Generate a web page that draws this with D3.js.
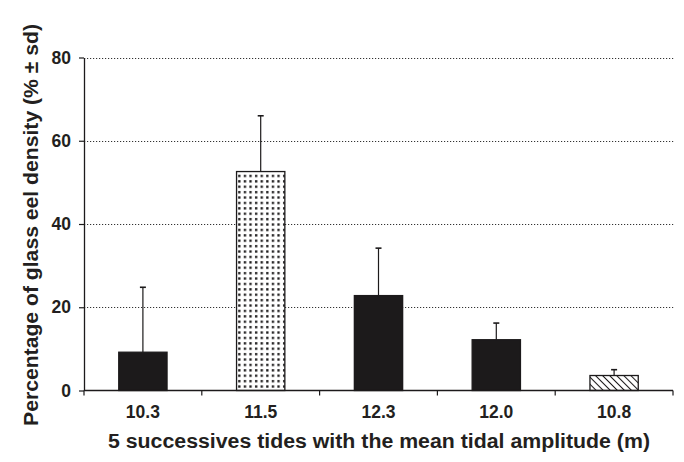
<!DOCTYPE html>
<html><head><meta charset="utf-8">
<script src="https://cdn.jsdelivr.net/npm/d3@7"></script>
<style>body{margin:0;background:#fff}svg{display:block}text{font-family:"Liberation Sans",Arial,sans-serif;font-weight:bold;fill:#231f20}</style>
</head><body>
<svg id="c" width="684" height="462"></svg>
<script>
const categories = ["10.3", "11.5", "12.3", "12.0", "10.8"];
const means = [9.2, 52.6, 22.8, 12.2, 3.6];
const sds = [15.6, 13.4, 11.4, 4.0, 1.4];
const fills = ["solid", "dots", "solid", "solid", "hatch"];
const yTicks = [0, 20, 40, 60, 80];

const svg = d3.select("#c");
const m = {l: 84, r: 11, t: 57.5, b: 71.5};
const W = 684, H = 462;
const x = d3.scaleBand().domain(categories).range([m.l, W - m.r]).paddingInner(0.59).paddingOuter(0.295);
const xb = d3.scaleBand().domain(categories).range([m.l, W - m.r]);
const y = d3.scaleLinear().domain([0, 80]).range([H - m.b, m.t]);

const defs = svg.append("defs");
const pd = defs.append("pattern").attr("id", "dots").attr("patternUnits", "userSpaceOnUse")
  .attr("width", 5.6).attr("height", 5.4).attr("x", 2).attr("y", 1);
pd.append("rect").attr("width", 5.6).attr("height", 5.4).attr("fill", "#fff");
pd.append("rect").attr("x", 1).attr("y", 1).attr("width", 2.3).attr("height", 2.3).attr("fill", "#1c1a1b");
const ph = defs.append("pattern").attr("id", "hatch").attr("patternUnits", "userSpaceOnUse")
  .attr("width", 5).attr("height", 5).attr("patternTransform", "rotate(-45)");
ph.append("rect").attr("width", 5).attr("height", 5).attr("fill", "#fff");
ph.append("line").attr("x1", 0).attr("y1", 0).attr("x2", 0).attr("y2", 5).attr("stroke", "#1c1a1b").attr("stroke-width", 2);

// gridlines
svg.append("g").selectAll("line").data(yTicks.filter(d => d > 0)).join("line")
  .attr("x1", m.l).attr("x2", W - m.r + 0.5)
  .attr("y1", d => Math.round(y(d)) + 0.5).attr("y2", d => Math.round(y(d)) + 0.5)
  .attr("stroke", "#333").attr("stroke-width", 1).attr("stroke-dasharray", "1.2,1.8");

// bars
svg.append("g").selectAll("rect").data(categories).join("rect")
  .attr("x", d => x(d)).attr("width", x.bandwidth())
  .attr("y", (d, i) => y(means[i])).attr("height", (d, i) => y(0) - y(means[i]))
  .attr("fill", (d, i) => fills[i] === "solid" ? "#1c1a1b" : `url(#${fills[i]})`)
  .attr("stroke", "#1c1a1b").attr("stroke-width", 1.3);

// error bars
const eb = svg.append("g").attr("stroke", "#1c1a1b").attr("stroke-width", 1.2);
categories.forEach((c, i) => {
  const cx = x(c) + x.bandwidth() / 2;
  eb.append("line").attr("x1", cx).attr("x2", cx).attr("y1", y(means[i])).attr("y2", y(means[i] + sds[i]));
  eb.append("line").attr("x1", cx - 3).attr("x2", cx + 3).attr("y1", y(means[i] + sds[i])).attr("y2", y(means[i] + sds[i])).attr("stroke-width", 1.6);
});

// y axis
const ya = svg.append("g").attr("transform", `translate(${m.l},0)`)
  .call(d3.axisLeft(y).tickValues(yTicks).tickSize(5).tickPadding(8).tickSizeOuter(0));
ya.select(".domain").attr("stroke", "#1c1a1b").attr("stroke-width", 1.3);
ya.selectAll(".tick line").attr("stroke", "#1c1a1b").attr("stroke-width", 1.2);
ya.selectAll("text").style("font-size", "17.5px").style("font-weight", "bold").style("font-family", "Liberation Sans, Arial, sans-serif").attr("fill", "#231f20");

// x axis: ticks at band boundaries
const xa = svg.append("g").attr("transform", `translate(0,${y(0)})`);
xa.append("line").attr("x1", m.l).attr("x2", W - m.r).attr("stroke", "#1c1a1b").attr("stroke-width", 1.3);
const bounds = categories.map(c => xb(c)).concat([W - m.r]);
xa.selectAll(".bt").data(bounds).join("line").attr("class", "bt")
  .attr("x1", d => d).attr("x2", d => d).attr("y1", 0).attr("y2", 5)
  .attr("stroke", "#1c1a1b").attr("stroke-width", 1.2);
xa.selectAll(".xl").data(categories).join("text").attr("class", "xl")
  .attr("x", d => xb(d) + xb.bandwidth() / 2).attr("y", 27).attr("text-anchor", "middle")
  .style("font-size", "17.5px").text(d => d);

// titles
svg.append("text").attr("x", 379).attr("y", 448).attr("text-anchor", "middle")
  .style("font-size", "19.5px").attr("textLength", 542).attr("lengthAdjust", "spacingAndGlyphs")
  .text("5 successives tides with the mean tidal amplitude (m)");
svg.append("text").attr("transform", "translate(38,225) rotate(-90)").attr("text-anchor", "middle")
  .style("font-size", "19.5px").attr("textLength", 402).attr("lengthAdjust", "spacingAndGlyphs")
  .text("Percentage of glass eel density (% ± sd)");
</script>
</body></html>
